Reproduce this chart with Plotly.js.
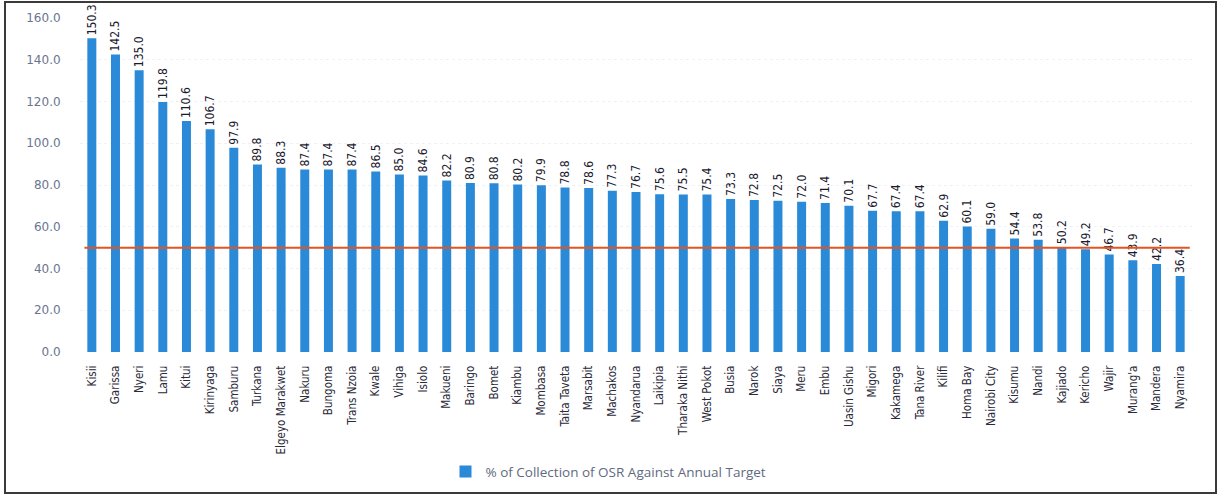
<!DOCTYPE html>
<html>
<head>
<meta charset="utf-8">
<script src="https://cdn.plot.ly/plotly-3.0.1.min.js"></script>
<style>
  html, body { margin: 0; padding: 0; background: #fff; }
  #frame { position: absolute; left: 4px; top: 1px; width: 1209px; height: 489px; border: 2px solid #3a3a3a; box-sizing: content-box; }
  #chart { position: absolute; left: 0; top: 0; width: 1217px; height: 494px; }
</style>
</head>
<body>
<div id="chart"></div>
<div id="frame"></div>
<script>
const counties = ["Kisii","Garissa","Nyeri","Lamu","Kitui","Kirinyaga","Samburu","Turkana","Elgeyo Marakwet","Nakuru","Bungoma","Trans Nzoia","Kwale","Vihiga","Isiolo","Makueni","Baringo","Bomet","Kiambu","Mombasa","Taita Taveta","Marsabit","Machakos","Nyandarua","Laikipia","Tharaka Nithi","West Pokot","Busia","Narok","Siaya","Meru","Embu","Uasin Gishu","Migori","Kakamega","Tana River","Kilifi","Homa Bay","Nairobi City","Kisumu","Nandi","Kajiado","Kericho","Wajir","Murang'a","Mandera","Nyamira"];
const collectionPct = [150.3,142.5,135.0,119.8,110.6,106.7,97.9,89.8,88.3,87.4,87.4,87.4,86.5,85.0,84.6,82.2,80.9,80.8,80.2,79.9,78.8,78.6,77.3,76.7,75.6,75.5,75.4,73.3,72.8,72.5,72.0,71.4,70.1,67.7,67.4,67.4,62.9,60.1,59.0,54.4,53.8,50.2,49.2,46.7,43.9,42.2,36.4];
const seriesName = "% of Collection of OSR Against Annual Target";
const targetLine = 50;
const yTicks = [0,20,40,60,80,100,120,140,160];

const narrow = "'DejaVu Sans Condensed', 'Liberation Sans Narrow', 'Arial Narrow', 'Liberation Sans', sans-serif";

const trace = {
  type: 'bar',
  x: counties,
  y: collectionPct,
  name: seriesName,
  marker: { color: '#2a8ad8' },
  text: collectionPct.map(v => v.toFixed(1)),
  textposition: 'outside',
  textangle: -90,
  constraintext: 'none',
  cliponaxis: false,
  textfont: { family: narrow, size: 12, color: '#1a1a2e' },
  hoverinfo: 'x+y'
};

const layout = {
  width: 1217, height: 494,
  margin: { l: 80, r: 25, t: 18, b: 142 },
  paper_bgcolor: 'rgba(0,0,0,0)',
  plot_bgcolor: 'rgba(0,0,0,0)',
  bargap: 0.62,
  showlegend: true,
  legend: {
    orientation: 'h', x: 0.5, xanchor: 'center', xref: 'container',
    y: 0.045, yanchor: 'middle', yref: 'container',
    itemwidth: 30,
    font: { family: "'Open Sans', 'Liberation Sans', sans-serif", size: 13.5, color: '#5f6a80' }
  },
  xaxis: {
    type: 'category',
    automargin: false,
    tickangle: -90,
    tickfont: { family: narrow, size: 11.5, color: '#2a2a3a' },
    showgrid: false, zeroline: false, showline: false,
    ticks: 'outside', ticklen: 8, tickcolor: 'rgba(0,0,0,0)'
  },
  yaxis: {
    automargin: false,
    range: [0, 160],
    tickvals: yTicks,
    tickformat: '.1f',
    tickfont: { family: "'DejaVu Sans', sans-serif", size: 12, color: '#6a7590' },
    showgrid: true, gridcolor: '#eef2f8', griddash: 'dot',
    zeroline: false, showline: false,
    ticks: 'outside', ticklen: 16, tickcolor: 'rgba(0,0,0,0)'
  },
  shapes: [{
    type: 'line', xref: 'paper', yref: 'y',
    x0: 0.004, x1: 0.998, y0: targetLine, y1: targetLine,
    line: { color: '#e5531f', width: 2 }
  }]
};

Plotly.newPlot('chart', [trace], layout, { displayModeBar: false, staticPlot: true });
</script>
</body>
</html>
